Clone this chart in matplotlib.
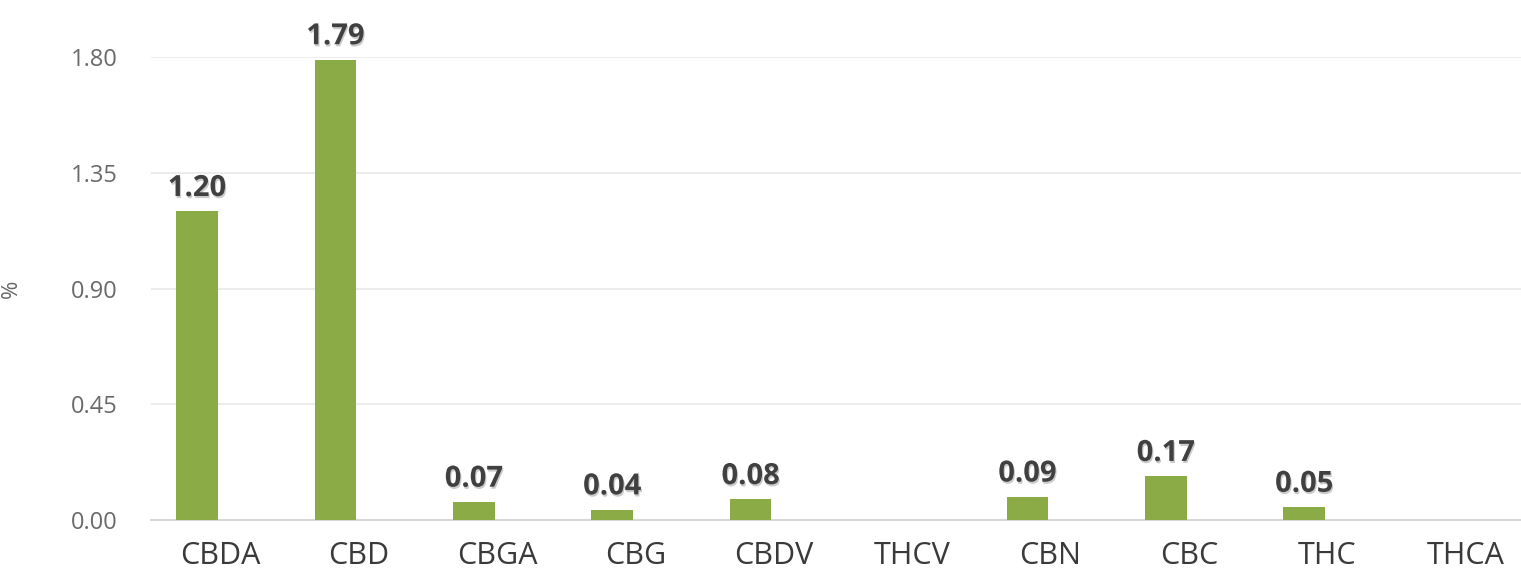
import matplotlib
matplotlib.use("Agg")
import matplotlib.pyplot as plt
import matplotlib.patheffects as pe
import numpy as np

categories = ["CBDA", "CBD", "CBGA", "CBG", "CBDV", "THCV", "CBN", "CBC", "THC", "THCA"]
values = [1.20, 1.79, 0.07, 0.04, 0.08, 0.0, 0.09, 0.17, 0.05, 0.0]
y_ticks = [0.00, 0.45, 0.90, 1.35, 1.80]
y_label = "%"

plt.rcParams['font.family'] = ['Open Sans', 'DejaVu Sans']

W, H = 1521, 570
fig = plt.figure(figsize=(W / 100, H / 100), dpi=100)
left_px, right_px, top_px, bottom_px = 151, 1521, 57, 520
ax = fig.add_axes([left_px / W, 1 - bottom_px / H, (right_px - left_px) / W, (bottom_px - top_px) / H])

x = np.arange(len(categories))
bar_w = 0.30
offset = -0.168
bar_color = "#8aab45"
bars = ax.bar(x + offset, values, width=bar_w, color=bar_color, zorder=3)

for xi, v in zip(x, values):
    if v > 0:
        ax.annotate(f"{v:.2f}", xy=(xi + offset, v), xytext=(0, 6), textcoords="offset points",
                    ha="center", va="bottom", fontsize=21, fontweight="bold", color="#404040",
                    path_effects=[pe.withSimplePatchShadow(offset=(0.8, -1.5), shadow_rgbFace="#999999", alpha=0.5)],
                    zorder=5)

slot_px = 138.4
ax.set_xlim(-0.5, -0.5 + (right_px - left_px) / slot_px)
ax.set_ylim(0, 1.80)
ax.set_yticks(y_ticks)
ax.set_yticklabels([f"{t:.2f}" for t in y_ticks], fontsize=17, color="#6a6a6a")
ax.set_xticks(x)
ax.set_xticklabels(categories, fontsize=22, color="#3a3a3a", fontweight="medium")
ax.tick_params(axis="both", length=0)
ax.tick_params(axis="x", pad=15)
ax.tick_params(axis="y", pad=24)

ax.grid(axis="y", color="#ebebeb", linewidth=1.3, zorder=0)
ax.set_axisbelow(True)
for s in ["top", "right", "left"]:
    ax.spines[s].set_visible(False)
ax.spines["bottom"].set_color("#d8d8d8")
ax.spines["bottom"].set_linewidth(1.5)

ax.set_ylabel(y_label, fontsize=16, color="#666666")
ax.yaxis.set_label_coords(-(left_px - 22) / (right_px - left_px), 0.5)

fig.savefig("out.png", dpi=100, facecolor="white")
